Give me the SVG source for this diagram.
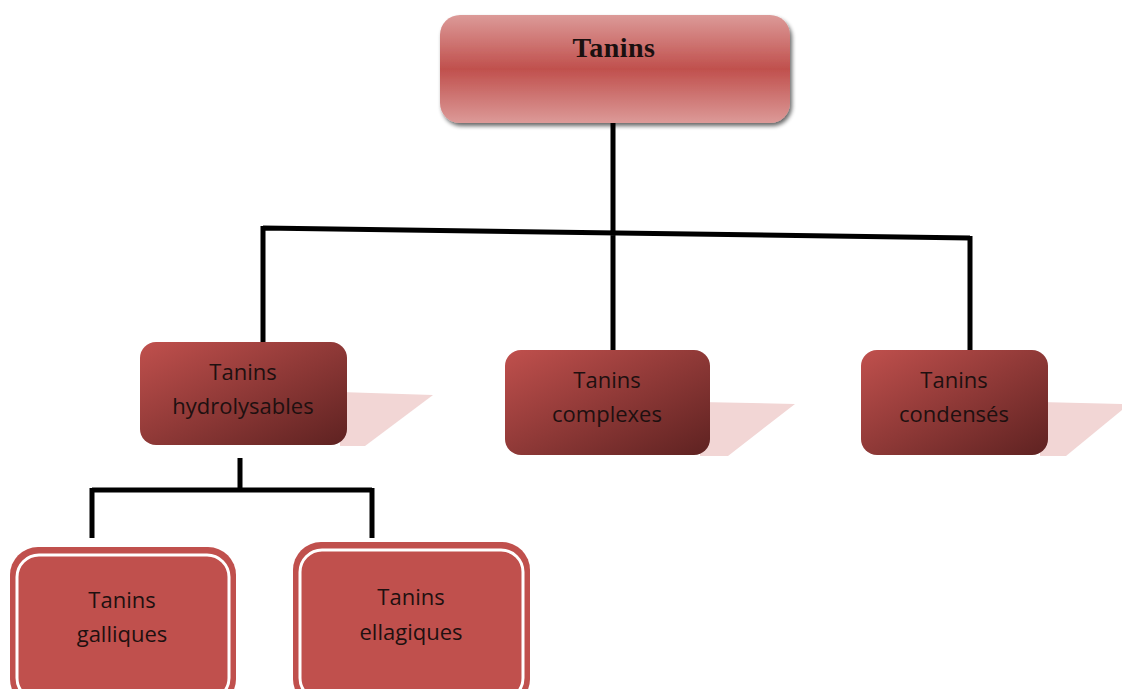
<svg xmlns="http://www.w3.org/2000/svg" width="1122" height="689" viewBox="0 0 1122 689">
<defs>
<linearGradient id="gTop" x1="0" y1="0" x2="0" y2="1">
<stop offset="0" stop-color="#dc9a98"/>
<stop offset="0.5" stop-color="#c0504d"/>
<stop offset="1" stop-color="#dc9a98"/>
</linearGradient>
<linearGradient id="gMid" x1="0" y1="0" x2="1" y2="1">
<stop offset="0" stop-color="#c0504d"/>
<stop offset="1" stop-color="#5e2221"/>
</linearGradient>
<filter id="sh" x="-10%" y="-10%" width="130%" height="130%">
<feGaussianBlur in="SourceAlpha" stdDeviation="2"/>
<feOffset dx="2" dy="3"/>
<feComponentTransfer><feFuncA type="linear" slope="0.6"/></feComponentTransfer>
<feMerge><feMergeNode/><feMergeNode in="SourceGraphic"/></feMerge>
</filter>
</defs>
<style>
.t{font-family:"Open Sans","Liberation Sans",sans-serif;font-size:22px;fill:#1e1010;text-anchor:middle}
.top{font-family:"Liberation Serif",serif;font-size:28px;font-weight:bold;fill:#1a1010;text-anchor:middle;letter-spacing:0.5px}
.mid{fill:url(#gMid)}
.shadow{fill:#f2d6d5}
.low{fill:#c0504d}
.inner{fill:none;stroke:#ffffff;stroke-width:3}
.c{stroke:#000;stroke-width:5;fill:none}
</style>
<rect width="1122" height="689" fill="#ffffff"/>
<g id="connectors">
<path class="c" d="M613 123 V230 M263 228 L970 238 M263 226 V342 M613 230 V350 M970 236 V350"/>
<path class="c" d="M240 458 V490 M92 490 H372 M92 488 V538 M372 488 V538"/>
</g>
<g id="tanins">
<rect x="440" y="15" width="350" height="108" rx="20" fill="url(#gTop)" filter="url(#sh)"/>
<text class="top" x="614" y="57">Tanins</text>
</g>
<g id="hydrolysables">
<polygon class="shadow" points="340,392 433,395 365,446 340,446"/>
<rect x="140" y="342" width="207" height="103" rx="16" class="mid"/>
<text class="t" x="243" y="380">Tanins</text>
<text class="t" x="243" y="414">hydrolysables</text>
</g>
<g id="complexes">
<polygon class="shadow" points="700,402 795,404 728,456 700,456"/>
<rect x="505" y="350" width="205" height="105" rx="16" class="mid"/>
<text class="t" x="607" y="388">Tanins</text>
<text class="t" x="607" y="422">complexes</text>
</g>
<g id="condenses">
<polygon class="shadow" points="1040,402 1122,404 1122,410 1066,456 1040,456"/>
<rect x="861" y="350" width="187" height="105" rx="16" class="mid"/>
<text class="t" x="954" y="388">Tanins</text>
<text class="t" x="954" y="422">condensés</text>
</g>
<g id="galliques">
<rect x="10" y="547" width="226" height="160" rx="28" class="low"/>
<rect x="17" y="555" width="212" height="145" rx="22" class="inner"/>
<text class="t" x="122" y="608">Tanins</text>
<text class="t" x="122" y="642">galliques</text>
</g>
<g id="ellagiques">
<rect x="293" y="542" width="237" height="165" rx="28" class="low"/>
<rect x="300" y="550" width="223" height="150" rx="22" class="inner"/>
<text class="t" x="411" y="605">Tanins</text>
<text class="t" x="411" y="640">ellagiques</text>
</g>
</svg>
